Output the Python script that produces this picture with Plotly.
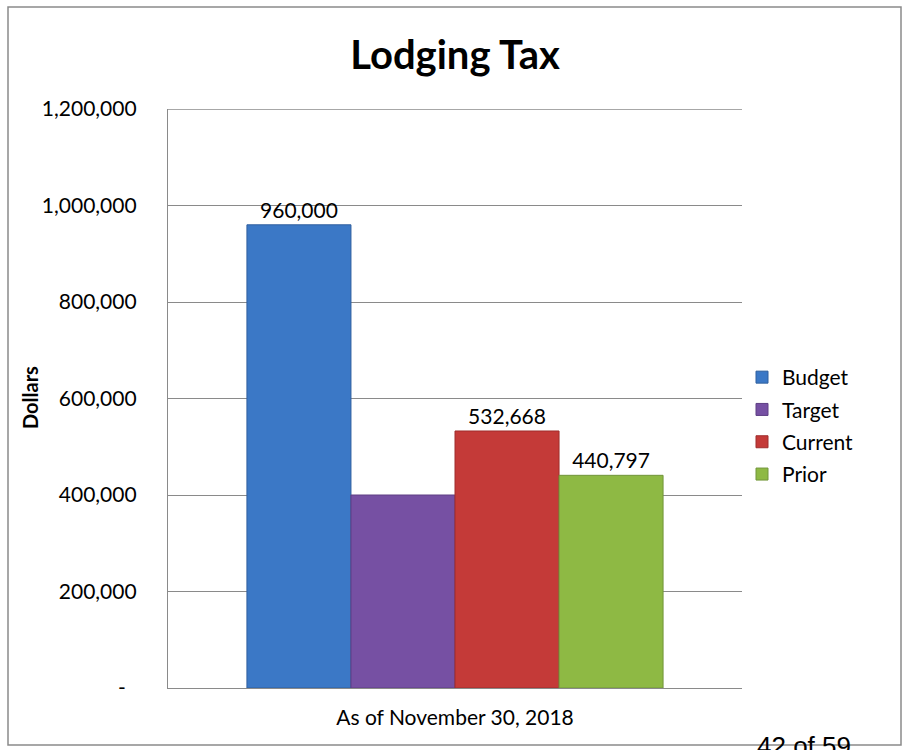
import plotly.graph_objects as go

# Lodging tax collections, single reporting period
period = ["As of November 30, 2018"]
series_names = ["Budget", "Target", "Current", "Prior"]
series_values = [960000, 400000, 532668, 440797]
series_colors = ["#3B78C6", "#7650A3", "#C43A38", "#8EB944"]
series_edges = ["#2F5F9E", "#5E3F84", "#9E2D2C", "#71953A"]
show_label = [True, False, True, True]

y_ticks = [0, 200000, 400000, 600000, 800000, 1000000, 1200000]
y_ticktext = ["-\u00a0\u00a0", "200,000", "400,000", "600,000", "800,000", "1,000,000", "1,200,000"]

FONT = "Lato, 'Open Sans', sans-serif"
W, H = 903, 750
L, R, T, B = 168, 742, 109, 688  # plot area in pixels
GRID = "#8A8A8A"


def px_x(px):
    return (px - L) / (R - L)


def px_y(py):
    return (B - py) / (B - T)


fig = go.Figure()
for name, val, col, edge, lab in zip(series_names, series_values, series_colors,
                                     series_edges, show_label):
    fig.add_trace(go.Bar(
        name=name,
        x=period,
        y=[val],
        marker=dict(color=col, line=dict(color=edge, width=1)),
        text=[f"{val:,}"] if lab else [""],
        textposition="outside",
        textfont=dict(family=FONT, size=21, color="#000000"),
        cliponaxis=False,
        legendgroup=name,
    ))

fig.update_layout(
    width=W, height=H,
    margin=dict(l=L, r=W - R, t=T, b=H - B, pad=0),
    paper_bgcolor="white",
    plot_bgcolor="white",
    barmode="group",
    bargap=0.275,
    bargroupgap=0,
    font=dict(family=FONT, size=21, color="#000000"),
    title=dict(
        text="<b>Lodging Tax</b>",
        font=dict(family=FONT, size=40, color="#000000"),
        x=0.5, xref="paper", xanchor="center",
        y=1 - 55 / H, yref="container", yanchor="middle",
    ),
    showlegend=True,
    legend=dict(
        x=px_x(742), xanchor="left",
        y=px_y(426), yanchor="middle",
        font=dict(family=FONT, size=21, color="#000000"),
        tracegroupgap=2,
        bgcolor="rgba(0,0,0,0)",
    ),
    xaxis=dict(
        showgrid=False,
        showline=True, linecolor=GRID, linewidth=1.3,
        ticks="outside", ticklen=11, tickcolor="rgba(0,0,0,0)",
        tickfont=dict(family=FONT, size=21, color="#000000"),
    ),
    yaxis=dict(
        range=[0, 1200000],
        tickvals=y_ticks,
        ticktext=y_ticktext,
        showgrid=True, gridcolor=GRID, gridwidth=1.3,
        showline=True, linecolor=GRID, linewidth=1.3,
        zeroline=False,
        ticks="outside", ticklen=26, tickcolor="rgba(0,0,0,0)",
        tickfont=dict(family=FONT, size=21, color="#000000"),
    ),
    shapes=[
        # outer chart frame
        dict(type="rect", xref="paper", yref="paper",
             x0=px_x(8), x1=px_x(901), y0=px_y(745), y1=px_y(7),
             line=dict(color=GRID, width=1.5), fillcolor="rgba(0,0,0,0)",
             layer="below"),
        # top gridline at the axis maximum
        dict(type="line", xref="paper", yref="y",
             x0=0, x1=1, y0=y_ticks[-1], y1=y_ticks[-1],
             line=dict(color=GRID, width=1.3), layer="below"),
    ],
    annotations=[
        dict(text="<b>Dollars</b>", xref="paper", yref="paper",
             x=px_x(30), y=px_y(398), textangle=-90,
             showarrow=False, xanchor="center", yanchor="middle",
             font=dict(family=FONT, size=20, color="#000000")),
        dict(text="42 of 59", xref="paper", yref="paper",
             x=px_x(804), y=px_y(729), showarrow=False,
             xanchor="center", yanchor="top",
             font=dict(family="Liberation Sans, Arial, sans-serif", size=26, color="#000000")),
    ],
)

fig.write_html("out.html")
